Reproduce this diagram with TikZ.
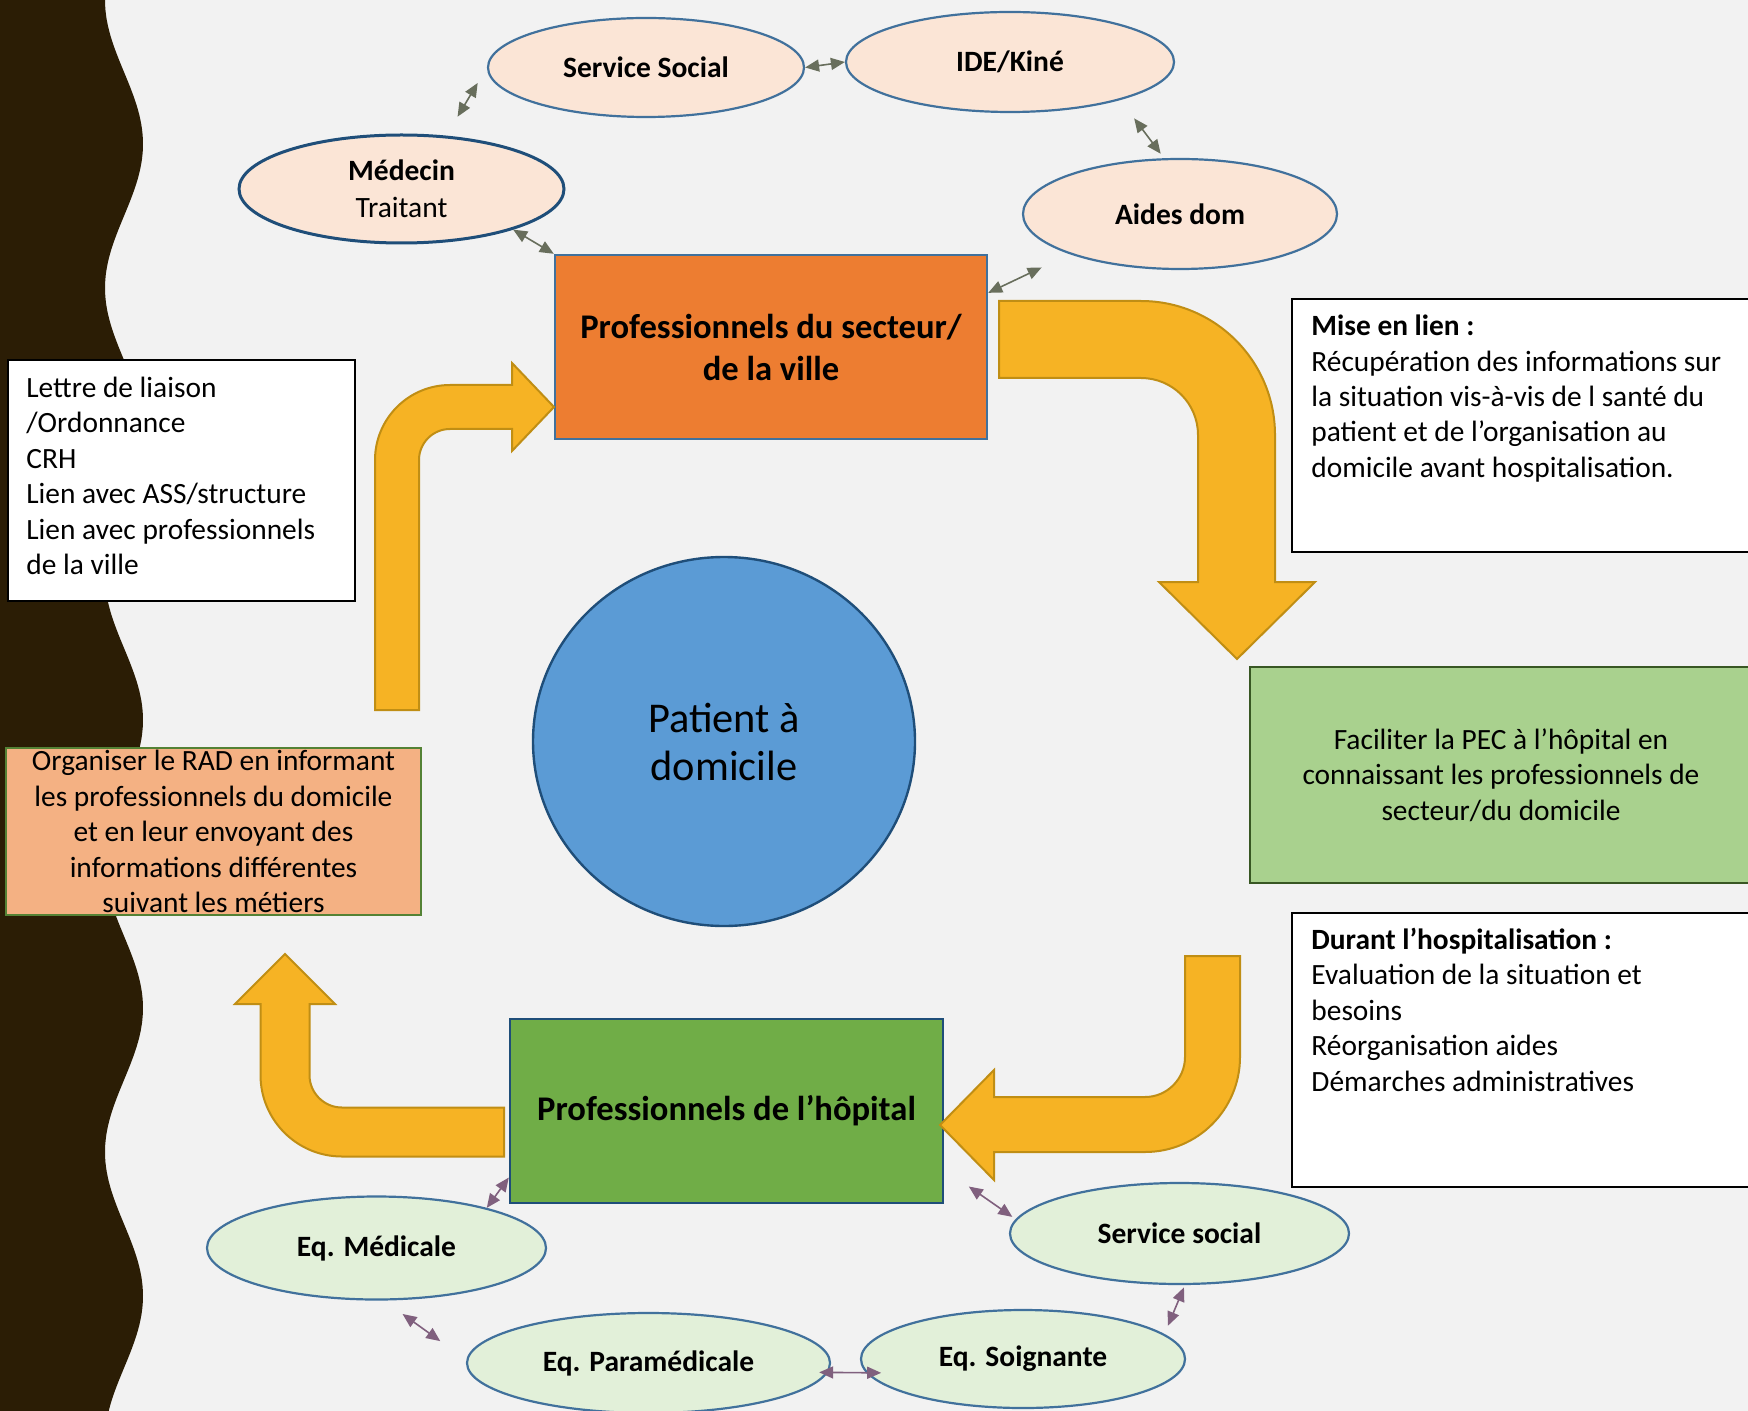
\documentclass[tikz,border=0pt]{standalone}
\usepackage{fontspec}
\setmainfont{Carlito}
\usetikzlibrary{arrows.meta,shapes.geometric}

\definecolor{bgpage}{HTML}{F2F2F2}
\definecolor{wavebrown}{HTML}{2B1D05}
\definecolor{peach}{HTML}{FBE5D6}
\definecolor{mint}{HTML}{E2F0D9}
\definecolor{ellblue}{HTML}{41719C}
\definecolor{navy}{HTML}{1F4E79}
\definecolor{orangebox}{HTML}{ED7D31}
\definecolor{greenbox}{HTML}{70AD47}
\definecolor{lightgreen}{HTML}{A9D18E}
\definecolor{darkgreen}{HTML}{385723}
\definecolor{salmon}{HTML}{F4B183}
\definecolor{midgreen}{HTML}{548235}
\definecolor{skyblue}{HTML}{5B9BD5}
\definecolor{arrowgold}{HTML}{F6B324}
\definecolor{arrowedge}{HTML}{C08E14}
\definecolor{linkgrey}{HTML}{686E5C}
\definecolor{linkmauve}{HTML}{80607E}

\tikzset{
	topell/.style={ellipse, draw=ellblue, line width=1.1pt, fill=peach, inner sep=0pt, align=center, font=\fontsize{14.75}{18.5}\selectfont\bfseries},
	botell/.style={ellipse, draw=ellblue, line width=1.1pt, fill=mint, inner sep=0pt, font=\fontsize{14.75}{18.5}\selectfont\bfseries},
	bigbox/.style={rectangle, line width=1.2pt, inner sep=0pt, align=center, font=\fontsize{17.3}{21}\selectfont\bfseries},
	notebox/.style={rectangle, draw=black, line width=1pt, fill=white, inner sep=0pt},
	notetext/.style={inner sep=0pt, align=left, anchor=north west, font=\fontsize{14.7}{17.7}\selectfont},
	goalbox/.style={rectangle, line width=1pt, inner sep=0pt, align=center, font=\fontsize{14.7}{17.75}\selectfont},
	bigarrow/.style={fill=arrowgold, draw=arrowedge, line width=1pt},
	toplink/.style={draw=linkgrey, line width=0.8pt, {Triangle[length=7pt,width=6pt]}-{Triangle[length=7pt,width=6pt]}},
	botlink/.style={draw=linkmauve, line width=0.8pt, {Triangle[length=7pt,width=6pt]}-{Triangle[length=7pt,width=6pt]}},
}

\begin{document}
\begin{tikzpicture}[x=0.5pt, y=-0.5pt]
	\useasboundingbox (0,0) rectangle (1748,1411);
	\clip (0,0) rectangle (1748,1411);
	\fill [bgpage] (0,0) rectangle (1748,1411);
	\fill [wavebrown] (0,0) -- plot [domain=0:1411, samples=160, smooth] ({124-19*cos(\x*1.25)}, \x) -- (0,1411) -- cycle;

	% ville
	\node [topell, minimum width=158pt, minimum height=49.5pt] (servsoc) at (646,67.5) {Service Social};
	\node [topell, minimum width=164pt, minimum height=50pt] (ide) at (1010,62) {IDE/Kiné};
	\node [topell, draw=navy, line width=1.5pt, font=\fontsize{14.75}{18.5}\selectfont, minimum width=162.5pt, minimum height=54pt] (medecin) at (401.5,189) {\textbf{Médecin}\\Traitant};
	\node [topell, minimum width=157pt, minimum height=55pt] (aides) at (1180,214) {Aides dom};
	\node [bigbox, draw=ellblue, fill=orangebox, minimum width=216pt, minimum height=92pt] (secteur) at (771,347) {Professionnels du secteur/\\de la ville};

	% hopital
	\node [bigbox, draw=navy, fill=greenbox, minimum width=216.5pt, minimum height=92pt] (hopital) at (726.5,1111) {Professionnels de l’hôpital};
	\node [botell, minimum width=169.5pt, minimum height=51.5pt] (eqmed) at (376.5,1248) {Eq. Médicale};
	\node [botell, minimum width=169.5pt, minimum height=50.5pt] (socsoc) at (1179.5,1233.5) {Service social};
	\node [botell, minimum width=181.5pt, minimum height=50pt] (eqpara) at (648.5,1363) {Eq. Paramédicale};
	\node [botell, minimum width=162pt, minimum height=49pt] (eqsoin) at (1023,1359) {Eq. Soignante};

	\node [ellipse, draw=navy, line width=1.2pt, fill=skyblue, inner sep=0pt, align=center, font=\fontsize{21.2}{24}\selectfont, minimum width=191pt, minimum height=184.5pt] (patient) at (724,741.5) {Patient à\\domicile};

	\node [goalbox, draw=darkgreen, fill=lightgreen, minimum width=251pt, minimum height=108pt] (faciliter) at (1501,775) {Faciliter la PEC à l’hôpital en\\connaissant les professionnels de\\secteur/du domicile};
	\node [goalbox, draw=midgreen, fill=salmon, minimum width=207.5pt, minimum height=83.5pt] (organiser) at (213.5,831.5) {Organiser le RAD en informant\\les professionnels du domicile\\et en leur envoyant des\\informations différentes\\suivant les métiers};

	\node [notebox, minimum width=173.5pt, minimum height=120.5pt] (lettre) at (181.5,480.5) {};
	\node [notetext] (lettre-txt) at ([xshift=9.5pt, yshift=-8.8pt]lettre.north west) {Lettre de liaison\\/Ordonnance\\CRH\\Lien avec ASS/structure\\Lien avec professionnels\\de la ville};
	\node [notebox, minimum width=234pt, minimum height=126.5pt] (miselien) at (1526,425.5) {};
	\node [notetext] (miselien-txt) at ([xshift=10pt, yshift=-8.3pt]miselien.north west) {\textbf{Mise en lien :}\\Récupération des informations sur\\la situation vis-à-vis de l santé du\\patient et de l’organisation au\\domicile avant hospitalisation.};
	\node [notebox, minimum width=234pt, minimum height=137pt] (durant) at (1526,1050) {};
	\node [notetext] (durant-txt) at ([xshift=10pt, yshift=-7.8pt]durant.north west) {\textbf{Durant l’hospitalisation :}\\Evaluation de la situation et\\besoins\\Réorganisation aides\\Démarches administratives};

	% grosses fleches
	\draw [bigarrow] (999,301) -- (1141,301) .. controls (1215,301) and (1275,361) .. (1275,435) -- (1275,582) -- (1315,582) -- (1237,659) -- (1159,582) -- (1198,582) -- (1198,435) .. controls (1198,403.5) and (1172.5,378) .. (1141,378) -- (999,378) -- cycle;
	\draw [bigarrow] (1185,956) -- (1240,956) -- (1240,1057) .. controls (1240,1109.5) and (1197.5,1152) .. (1145,1152) -- (994,1152) -- (994,1180) -- (940,1125) -- (994,1070) -- (994,1097) -- (1145,1097) .. controls (1167,1097) and (1185,1079) .. (1185,1057) -- cycle;
	\draw [bigarrow] (504,1107.5) -- (504,1156.5) -- (342,1156.5) .. controls (297,1156.5) and (260.5,1120) .. (260.5,1075) -- (260.5,1004) -- (235,1004) -- (285,954) -- (335,1004) -- (309.5,1004) -- (309.5,1075) .. controls (309.5,1093) and (324,1107.5) .. (342,1107.5) -- cycle;
	\draw [bigarrow] (375,710) -- (375,460) .. controls (375,418.6) and (408.6,385) .. (450,385) -- (512,385) -- (512,363) -- (554,407) -- (512,451) -- (512,429) -- (450,429) .. controls (432.9,429) and (419,442.9) .. (419,460) -- (419,710) -- cycle;

	% liens
	\foreach \from/\to/\sa/\sb in {medecin.50/servsoc.west/11/9, servsoc.east/ide.west/0/0, ide.-19/aides.106/11.5/2.75, medecin.-20/secteur.north west/0/0, secteur.14/aides.200/0/15.5} {
		\draw [toplink, shorten <=\sa pt, shorten >=\sb pt] (\from) -- (\to);
	}
	\foreach \from/\to/\sa/\sb in {eqmed.20/hopital.197/0/0, eqmed.-82.5/eqpara.179/11.5/16, eqpara.-3/eqsoin.185/-4.4/-7.5, hopital.-15/socsoc.175/15/2, eqsoin.10/socsoc.-84/4.5/1.25} {
		\draw [botlink, shorten <=\sa pt, shorten >=\sb pt] (\from) -- (\to);
	}
\end{tikzpicture}
\end{document}
